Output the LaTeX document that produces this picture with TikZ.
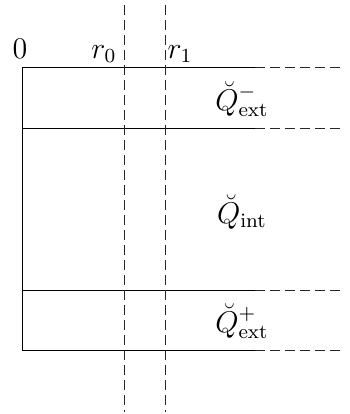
\documentclass[tikz,border=0pt]{standalone}
\usetikzlibrary{positioning}
\tikzset{line width=.5pt,
  every node/.style={font=\large,inner sep=0pt},
  wall/.style={draw=black},
  farwall/.style={draw=black!85,dash pattern=on 4pt off 2pt},
  cutline/.style={draw=black!85,dash pattern=on 4pt off 2pt}}
\begin{document}
\begin{tikzpicture}[x=.4pt,y=-.4pt]
\useasboundingbox (0,0) rectangle (350,414);
% levels
\coordinate (a0) at (22,67);\coordinate (a1) at (22,128);\coordinate (a2) at (22,290);\coordinate (a3) at (22,350);
\coordinate (b0) at (255,67);\coordinate (b1) at (255,128);\coordinate (b2) at (255,290);\coordinate (b3) at (255,350);
\coordinate (c0) at (345,67);\coordinate (c1) at (345,128);\coordinate (c2) at (345,290);\coordinate (c3) at (345,350);
% strip
\draw[wall] (a0)--(a3);
\foreach \i in {0,...,3}{\draw[wall] (a\i)--(b\i);\draw[farwall] (b\i)--(c\i);}
% radii
\coordinate (r0top) at (124,5);\coordinate (r0bot) at (124,412);
\coordinate (r1top) at (165,5);\coordinate (r1bot) at (165,412);
\draw[cutline] (r0top)--(r0bot);\draw[cutline] (r1top)--(r1bot);
\node[anchor=base] (zero) at (20,58) {$0$};
\node[anchor=base east] (rzero) at (117,58) {$r_0$};
\node[anchor=base west] (rone) at (167,58) {$r_1$};
\node (qm) at (242,99) {$\breve{Q}^-_{\mathrm{ext}}$};
\node (qi) at (242,212) {$\breve{Q}_{\mathrm{int}}$};
\node (qp) at (242,321) {$\breve{Q}^+_{\mathrm{ext}}$};
\end{tikzpicture}
\end{document}
